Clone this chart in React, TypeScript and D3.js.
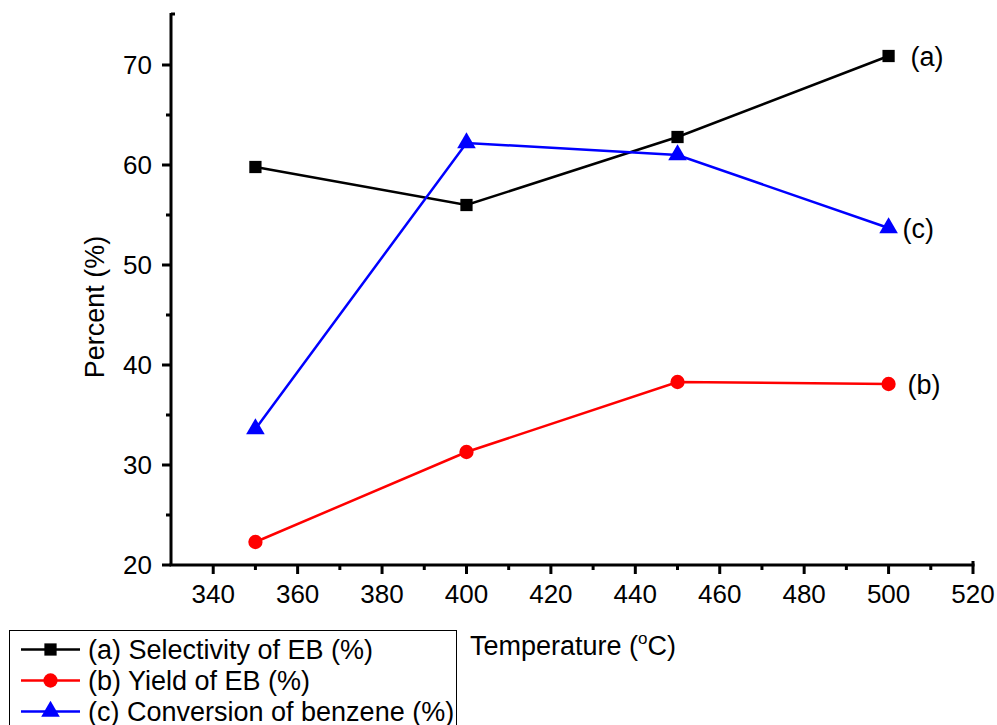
import React, { useEffect, useRef } from "react";
import * as d3 from "d3";

// Data
const temperatures = [350, 400, 450, 500];
const selectivity = [59.8, 56.0, 62.8, 70.9];
const yieldEB = [22.3, 31.3, 38.3, 38.1];
const conversion = [33.6, 62.2, 61.0, 53.7];

const xTicks = [340, 360, 380, 400, 420, 440, 460, 480, 500, 520];
const yTicks = [20, 30, 40, 50, 60, 70];

const seriesNames = [
  "(a) Selectivity of EB (%)",
  "(b) Yield of EB (%)",
  "(c) Conversion of benzene (%)",
];
const seriesTags = ["(a)", "(b)", "(c)"];

const App: React.FC = () => {
  const svgRef = useRef<SVGSVGElement | null>(null);

  useEffect(() => {
    if (!svgRef.current) return;
    const svg = d3.select(svgRef.current);
    svg.selectAll("*").remove();

    const width = 997;
    const height = 725;
    const font = "'Liberation Sans', Arial, sans-serif";
    const fs = 26;
    const fsText = 27;
    const margin = { left: 171, right: 24, top: 14, bottom: 160 };

    const x = d3.scaleLinear().domain([330, 520]).range([margin.left, width - margin.right]);
    const y = d3.scaleLinear().domain([20, 75.1]).range([height - margin.bottom, margin.top]);

    const x0 = x(330);
    const y0 = y(20);

    // axes
    const axes = svg.append("g").attr("stroke", "black").attr("stroke-width", 3);
    axes.append("line").attr("x1", x0).attr("x2", x0).attr("y1", y0).attr("y2", y(75.1) - 1);
    axes.append("line").attr("x1", x0 - 1.5).attr("x2", x(520) + 1.5).attr("y1", y0).attr("y2", y0);
    // small caps at axis ends
    axes.append("line").attr("x1", x0).attr("x2", x0 + 4).attr("y1", y(75.1)).attr("y2", y(75.1));
    axes.append("line").attr("x1", x(520)).attr("x2", x(520)).attr("y1", y0).attr("y2", y0 - 4);

    // x ticks
    const xMinor = d3.range(350, 520, 20);
    axes.selectAll(".xmaj").data(xTicks).enter().append("line")
      .attr("x1", (d) => x(d)).attr("x2", (d) => x(d)).attr("y1", y0).attr("y2", y0 + 9);
    axes.selectAll(".xmin").data(xMinor).enter().append("line")
      .attr("x1", (d) => x(d)).attr("x2", (d) => x(d)).attr("y1", y0).attr("y2", y0 + 5);
    svg.append("g").selectAll("text").data(xTicks).enter().append("text")
      .attr("x", (d) => x(d)).attr("y", y0 + 38)
      .attr("text-anchor", "middle").attr("font-family", font).attr("font-size", fs)
      .text((d) => d);

    // y ticks
    const yMinor = [25, 35, 45, 55, 65];
    axes.selectAll(".ymaj").data(yTicks).enter().append("line")
      .attr("x1", x0).attr("x2", x0 - 9).attr("y1", (d) => y(d)).attr("y2", (d) => y(d));
    axes.selectAll(".ymin").data(yMinor).enter().append("line")
      .attr("x1", x0).attr("x2", x0 - 5).attr("y1", (d) => y(d)).attr("y2", (d) => y(d));
    svg.append("g").selectAll("text").data(yTicks).enter().append("text")
      .attr("x", x0 - 19).attr("y", (d) => y(d)).attr("dy", "0.36em")
      .attr("text-anchor", "end").attr("font-family", font).attr("font-size", fs)
      .text((d) => d);

    // axis titles
    svg.append("text")
      .attr("transform", `translate(104, ${y(45.8)}) rotate(-90)`)
      .attr("text-anchor", "middle").attr("font-family", font).attr("font-size", fsText)
      .text("Percent (%)");
    const xt = svg.append("text")
      .attr("x", 470).attr("y", 655)
      .attr("font-family", font).attr("font-size", fsText);
    xt.append("tspan").text("Temperature (");
    xt.append("tspan").attr("font-size", 17).attr("dy", -11).text("o");
    xt.append("tspan").attr("dy", 11).text("C)");

    const series = [
      { values: selectivity, color: "black", shape: d3.symbolSquare, size: 150 },
      { values: yieldEB, color: "#ff0000", shape: d3.symbolCircle, size: 160 },
      { values: conversion, color: "#0000ff", shape: d3.symbolTriangle, size: 150 },
    ];

    const line = d3.line<number>()
      .x((_, i) => x(temperatures[i]))
      .y((d) => y(d));

    series.forEach((s) => {
      svg.append("path").datum(s.values)
        .attr("fill", "none").attr("stroke", s.color).attr("stroke-width", 2.5)
        .attr("d", line);
      svg.append("g").selectAll("path").data(s.values).enter().append("path")
        .attr("transform", (d, i) => `translate(${x(temperatures[i])},${y(d)})`)
        .attr("d", d3.symbol().type(s.shape).size(s.size)())
        .attr("fill", s.color);
    });

    // end labels
    series.forEach((s, i) => {
      const last = s.values[s.values.length - 1];
      svg.append("text")
        .attr("x", x(500) + (i === 2 ? 14 : i === 1 ? 19 : 22)).attr("y", y(last)).attr("dy", "0.36em")
        .attr("font-family", font).attr("font-size", fsText)
        .text(seriesTags[i]);
    });

    // legend
    const lg = svg.append("g");
    lg.append("rect").attr("x", 9.5).attr("y", 630.5).attr("width", 447).attr("height", 110)
      .attr("fill", "white").attr("stroke", "black").attr("stroke-width", 1);
    series.forEach((s, i) => {
      const ly = 649.5 + i * 31;
      lg.append("line").attr("x1", 21).attr("x2", 80).attr("y1", ly).attr("y2", ly)
        .attr("stroke", s.color).attr("stroke-width", 2.5);
      lg.append("path").attr("transform", `translate(50.5,${ly})`)
        .attr("d", d3.symbol().type(s.shape).size(s.size)())
        .attr("fill", s.color);
      lg.append("text").attr("x", 88).attr("y", ly).attr("dy", "0.36em")
        .attr("font-family", font).attr("font-size", fsText)
        .text(seriesNames[i]);
    });
  }, []);

  return (
    <div style={{ position: "absolute", left: 0, top: 0 }}>
      <svg ref={svgRef} width={997} height={725} style={{ display: "block", background: "white" }} />
    </div>
  );
};

export default App;
